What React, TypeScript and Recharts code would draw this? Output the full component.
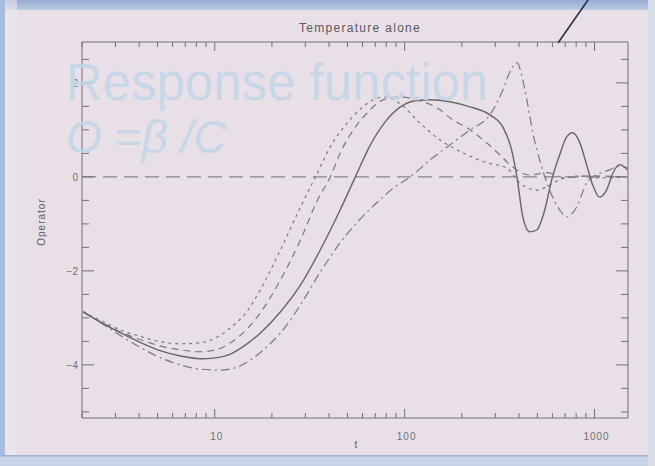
import React from 'react';
import { LineChart, Line, XAxis, YAxis, ReferenceLine } from 'recharts';

// Response operator vs t, four model runs (log t axis)
const solidX = [2.03, 2.5, 3.2, 4.1, 5.2, 6.6, 8.4, 10.1, 12.1, 14.6, 17.4, 22.2, 28.3, 36, 45.8, 55, 66, 79, 95, 114, 136, 173, 221, 281, 329, 366, 390, 419, 456, 496, 547, 595, 655, 713, 767, 834, 908, 977, 1062, 1156, 1259, 1353, 1490];
const solidY = [-2.87, -3.09, -3.32, -3.53, -3.7, -3.81, -3.87, -3.85, -3.77, -3.57, -3.32, -2.87, -2.3, -1.55, -0.7, 0, 0.68, 1.17, 1.49, 1.62, 1.64, 1.6, 1.49, 1.32, 1.06, 0.57, 0, -0.85, -1.17, -1.13, -0.7, -0.06, 0.47, 0.85, 0.94, 0.74, 0.26, -0.17, -0.43, -0.28, 0.11, 0.26, 0.15];

const dotX = [2.03, 2.52, 3.2, 4.1, 5.2, 6.6, 8.4, 10.1, 12.1, 14.6, 17.4, 22.2, 28.3, 33.9, 40.6, 49.9, 58, 68.4, 79, 95, 120, 153, 203, 271, 345, 404, 496, 560, 655, 834, 1062, 1490];
const dotY = [-2.87, -3.06, -3.26, -3.4, -3.51, -3.55, -3.53, -3.43, -3.21, -2.89, -2.4, -1.55, -0.64, 0, 0.64, 1.15, 1.43, 1.64, 1.7, 1.55, 1.15, 0.79, 0.51, 0.3, 0.19, -0.13, -0.28, -0.21, -0.06, 0.02, -0.02, 0];

const dashX = [2.03, 2.52, 3.2, 4.1, 5.2, 6.6, 8.4, 10.1, 12.1, 14.6, 17.4, 22.2, 28.3, 34.8, 40.6, 45.8, 53.7, 63.5, 77, 95, 120, 148, 180, 221, 271, 317, 358, 456, 560, 697, 941, 1490];
const dashY = [-2.87, -3.09, -3.3, -3.47, -3.6, -3.68, -3.72, -3.68, -3.53, -3.26, -2.89, -2.19, -1.34, -0.49, 0, 0.51, 1.0, 1.36, 1.64, 1.7, 1.62, 1.47, 1.21, 1.0, 0.72, 0.47, 0.26, 0.04, 0.09, -0.02, 0.02, 0];

const dashDotX = [2.03, 2.52, 3.2, 4.1, 5.2, 6.6, 8.4, 10.7, 12.9, 15.5, 18.5, 22.2, 28.3, 36, 45.8, 58, 74, 89, 107, 136, 173, 221, 281, 329, 358, 390, 419, 440, 473, 514, 580, 655, 713, 805, 908, 1023, 1199, 1353, 1490];
const dashDotY = [-2.87, -3.11, -3.38, -3.64, -3.85, -4.0, -4.09, -4.11, -4.06, -3.89, -3.64, -3.32, -2.72, -2.02, -1.4, -0.91, -0.49, -0.21, 0, 0.36, 0.68, 1.0, 1.32, 1.85, 2.23, 2.43, 2.06, 1.64, 0.94, 0.36, -0.28, -0.7, -0.85, -0.64, -0.13, 0.04, 0.15, 0.23, 0.19];

const xTicks = [2, 3, 4, 5, 6, 7, 8, 9, 10, 20, 30, 40, 50, 60, 70, 80, 90, 100, 200, 300, 400, 500, 600, 700, 800, 900, 1000];
const xLabels = [10, 100, 1000];
const yTicks = [-5, -4.5, -4, -3.5, -3, -2.5, -2, -1.5, -1, -0.5, 0, 0.5, 1, 1.5, 2, 2.5];
const yLabels = [-4, -2, 0, 2];

const zip = (xs: number[], ys: number[]) => xs.map((x, i) => ({ x, y: ys[i] }));

const solid = zip(solidX, solidY);
const dotted = zip(dotX, dotY);
const dashed = zip(dashX, dashY);
const dashDot = zip(dashDotX, dashDotY);

const BG = '#e8e0e6';
const INK = '#707074';
const FONT = '"Liberation Sans", Arial, sans-serif';
const X_DOMAIN: [number, number] = [2, 1500];
const Y_DOMAIN: [number, number] = [-5.13, 2.87];

// ticks point inward, IDL style
const BottomTick = ({ x, y, payload }: any) => {
  const major = xLabels.includes(payload.value);
  return (
    <g>
      <line x1={x} x2={x} y1={y} y2={y - (major ? 9 : 5)} stroke={INK} strokeWidth={1} />
      {major && (
        <text x={x + 2} y={y + 22} textAnchor="middle" fontSize={10} fill={INK} fontFamily={FONT} letterSpacing={1}>
          {payload.value}
        </text>
      )}
    </g>
  );
};

const TopTick = ({ x, y, payload }: any) => {
  const major = xLabels.includes(payload.value);
  return <line x1={x} x2={x} y1={y} y2={y + (major ? 9 : 5)} stroke={INK} strokeWidth={1} />;
};

const LeftTick = ({ x, y, payload }: any) => {
  const major = yLabels.includes(payload.value);
  return (
    <g>
      <line x1={x} x2={x + (major ? 12 : 7)} y1={y} y2={y} stroke={INK} strokeWidth={1} />
      {major && (
        <text x={x - 4} y={y + 4} textAnchor="end" fontSize={10} fill={INK} fontFamily={FONT}>
          {payload.value < 0 ? `\u2212${-payload.value}` : payload.value}
        </text>
      )}
    </g>
  );
};

const RightTick = ({ x, y, payload }: any) => {
  const major = yLabels.includes(payload.value);
  return <line x1={x} x2={x - (major ? 12 : 7)} y1={y} y2={y} stroke={INK} strokeWidth={1} />;
};

const App: React.FC = () => {
  return (
    <div style={{ position: 'fixed', left: 0, top: 0, width: 655, height: 466, background: BG, overflow: 'hidden' }}>
      <LineChart width={655} height={466} margin={{ top: 41, right: 26, bottom: 18, left: 42 }}>
        <XAxis
          dataKey="x"
          type="number"
          scale="log"
          domain={X_DOMAIN}
          allowDataOverflow
          ticks={xTicks}
          interval={0}
          tickSize={0}
          tickMargin={0}
          height={30}
          tick={<BottomTick />}
          axisLine={{ stroke: INK }}
        />
        <XAxis
          xAxisId="top"
          orientation="top"
          dataKey="x"
          type="number"
          scale="log"
          domain={X_DOMAIN}
          allowDataOverflow
          ticks={xTicks}
          interval={0}
          tickSize={0}
          tickMargin={0}
          height={1}
          tick={<TopTick />}
          axisLine={{ stroke: INK }}
        />
        <YAxis
          type="number"
          domain={Y_DOMAIN}
          allowDataOverflow
          ticks={yTicks}
          interval={0}
          tickSize={0}
          tickMargin={0}
          width={40}
          tick={<LeftTick />}
          axisLine={{ stroke: INK }}
        />
        <YAxis
          yAxisId="right"
          orientation="right"
          type="number"
          domain={Y_DOMAIN}
          allowDataOverflow
          ticks={yTicks}
          interval={0}
          tickSize={0}
          tickMargin={0}
          width={1}
          tick={<RightTick />}
          axisLine={{ stroke: INK }}
        />
        <ReferenceLine y={0} stroke={INK} strokeDasharray="14 7" strokeWidth={1} />
        <Line data={dotted} dataKey="y" type="monotone" stroke="#7a7a7e" strokeWidth={1.2} strokeDasharray="3 4" dot={false} isAnimationActive={false} />
        <Line data={dashed} dataKey="y" type="monotone" stroke="#7a7a7e" strokeWidth={1.2} strokeDasharray="7 5" dot={false} isAnimationActive={false} />
        <Line data={dashDot} dataKey="y" type="monotone" stroke="#7a7a7e" strokeWidth={1.2} strokeDasharray="9 4 2 4" dot={false} isAnimationActive={false} />
        <Line data={solid} dataKey="y" type="monotone" stroke="#666669" strokeWidth={1.4} dot={false} isAnimationActive={false} />
      </LineChart>

      <svg width={655} height={466} style={{ position: 'absolute', left: 0, top: 0, pointerEvents: 'none' }}>
        <defs>
          <linearGradient id="topBand" x1="0" y1="0" x2="0" y2="1">
            <stop offset="0" stopColor="#93abd0" />
            <stop offset="1" stopColor="#bccbe2" />
          </linearGradient>
        </defs>
        {/* slide frame */}
        <rect x={0} y={0} width={655} height={10} fill="url(#topBand)" />
        <rect x={0} y={0} width={5} height={466} fill="#a9bddc" />
        <rect x={5} y={0} width={12} height={466} fill="#ece6ee" opacity={0.6} />
        <rect x={0} y={456} width={655} height={10} fill="#c6d3e6" />
        <rect x={0} y={455} width={655} height={1.5} fill="#9fb4d4" />
        <rect x={648} y={0} width={7} height={466} fill="#d7deea" />

        <text x={360} y={32} textAnchor="middle" fontSize={12} fill="#5a5a5e" fontFamily={FONT} letterSpacing={1.3}>
          Temperature alone
        </text>
        <text
          x={45}
          y={222}
          textAnchor="middle"
          fontSize={10}
          fill="#5a5a5e"
          fontFamily={FONT}
          letterSpacing={1}
          transform="rotate(-90 45 222)"
        >
          Operator
        </text>
        <text x={356} y={448} textAnchor="middle" fontSize={10} fill="#5a5a5e" fontFamily={FONT}>
          t
        </text>

        {/* slide annotation */}
        <text x={66} y={100} fontSize={51} fill="#c2d6e8" opacity={0.85} fontFamily={FONT}>
          Response function
        </text>
        <text x={66} y={153} fontSize={46} fill="#c2d6e8" opacity={0.85} fontFamily={FONT} fontStyle="italic">
          O =β /C
        </text>
        <line x1={558} y1={43} x2={588} y2={0} stroke="#26304a" strokeWidth={1.6} />
      </svg>
    </div>
  );
};

export default App;
